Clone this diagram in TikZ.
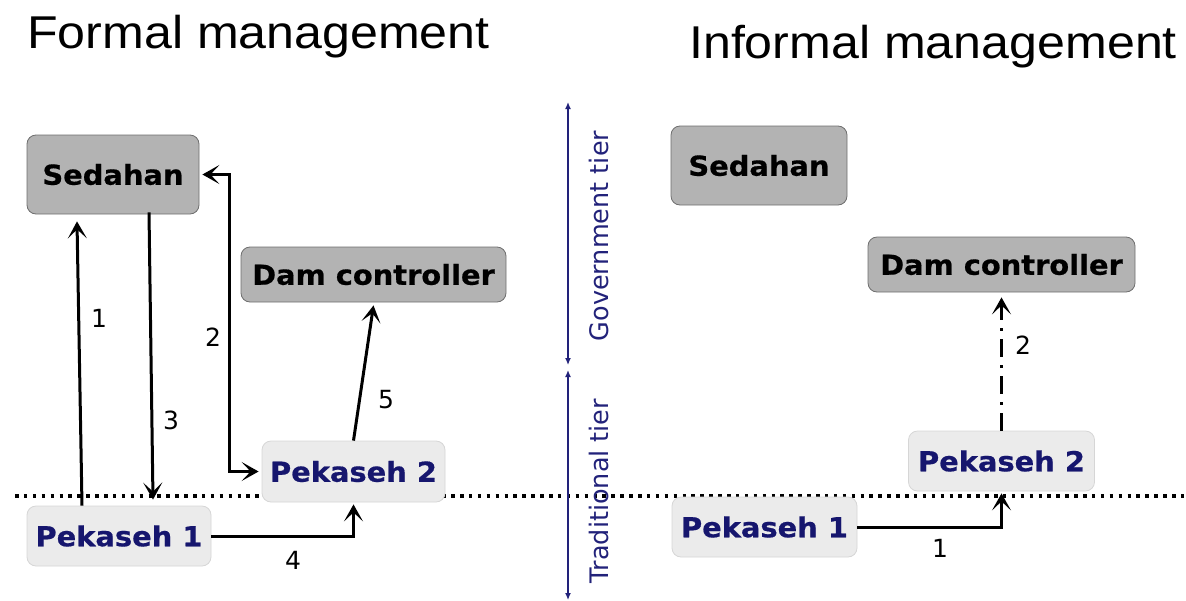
\documentclass[tikz,border=0pt]{standalone}
\usepackage{fontspec}
\setmainfont{DejaVu Sans}
\newfontfamily\titlefont[FakeStretch=1.09]{Liberation Sans}
\newfontfamily\boxfont[FakeStretch=1.05,FakeBold=0.6]{DejaVu Sans Bold}
\usetikzlibrary{arrows.meta}
\definecolor{boxgray}{HTML}{B3B3B3}
\definecolor{boxgrayline}{HTML}{6E6E6E}
\definecolor{boxlight}{HTML}{EBEBEB}
\definecolor{boxlightline}{HTML}{D6D6D6}
\definecolor{navytxt}{HTML}{16166E}
\definecolor{axisnavy}{HTML}{22227A}
\begin{document}
\begin{tikzpicture}[x=1pt,y=-1pt,
  govbox/.style={draw=boxgrayline,fill=boxgray,rounded corners=9pt,line width=0.8pt,
    font=\boxfont\fontsize{27.5}{30}\selectfont,text=black,inner sep=0pt},
  tradbox/.style={draw=boxlightline,fill=boxlight,rounded corners=9pt,line width=0.8pt,
    font=\boxfont\fontsize{27.5}{30}\selectfont,text=navytxt,inner sep=0pt},
  flow/.style={line width=3pt,-{Stealth[length=17pt,width=19pt,inset=9pt]}},
  flowboth/.style={line width=3pt,{Stealth[length=17pt,width=19pt,inset=9pt]}-{Stealth[length=17pt,width=19pt,inset=9pt]}},
  num/.style={font=\fontsize{25}{28}\selectfont,inner sep=0pt},
  tier/.style={font=\fontsize{25.5}{28}\selectfont,text=axisnavy,rotate=90,anchor=base,inner sep=0pt},
  axis/.style={draw=axisnavy,line width=1.3pt,{Latex[length=7pt,width=6pt]}-{Latex[length=7pt,width=6pt]}},
  title/.style={font=\titlefont\fontsize{46}{50}\selectfont,anchor=base west,inner sep=0pt}
]
\useasboundingbox (0,0) rectangle (1186,600);

% titles
\node[title] (t1) at (27,48) {Formal management};
\node[title] (t2) at (689,58) {Informal management};

% dotted boundary
\coordinate (dl) at (15,496);
\coordinate (dr) at (1186,496);
\draw[line width=3.5pt,dash pattern=on 3.5pt off 5.4pt] (dl) -- (dr);

% tier axis
\coordinate (a1) at (568,102);
\coordinate (a2) at (568,365);
\coordinate (a3) at (568,370);
\coordinate (a4) at (568,600);
\draw[axis] (a1) -- (a2);
\draw[axis] (a3) -- (a4);
\node[tier] (gt) at (608,236) {Government tier};
\node[tier] (tt) at (608,491) {Traditional tier};

% left: formal management
\node[govbox,minimum width=172pt,minimum height=79pt] (sedL) at (113,174.5) {Sedahan};
\node[govbox,minimum width=265pt,minimum height=55pt] (damL) at (373.5,274.5) {Dam controller};
\node[tradbox,minimum width=183pt,minimum height=61pt] (pk2L) at (353.5,471.5) {Pekaseh 2};
\node[tradbox,minimum width=184pt,minimum height=60pt] (pk1L) at (119,536) {Pekaseh 1};

\draw[flow] ([xshift=-37pt]pk1L.north) -- ([xshift=-36pt,yshift=-7pt]sedL.south);
\draw[flow] ([xshift=36pt,yshift=2pt]sedL.south) -- ([xshift=34pt,yshift=6pt]pk1L.north);
\draw[flowboth] ([xshift=3pt]sedL.east) -| ([xshift=-32pt]pk2L.west) -- ([xshift=-3pt]pk2L.west);
\draw[flow] (pk1L.east) -| ([yshift=-2pt]pk2L.south);
\draw[flow] (pk2L.north) -- ([yshift=-3pt]damL.south);

\node[num] (n1) at (99,318) {1};
\node[num] (n2) at (213,337) {2};
\node[num] (n3) at (171,420) {3};
\node[num] (n4) at (293,560) {4};
\node[num] (n5) at (386,400) {5};

% right: informal management
\node[govbox,minimum width=176pt,minimum height=79pt] (sedR) at (759,165.5) {Sedahan};
\node[govbox,minimum width=267pt,minimum height=55pt] (damR) at (1001.5,264.5) {Dam controller};
\node[tradbox,minimum width=186pt,minimum height=60pt] (pk2R) at (1001.5,461) {Pekaseh 2};
\node[tradbox,minimum width=185pt,minimum height=60pt] (pk1R) at (764.5,527) {Pekaseh 1};

\draw[flow] (pk1R.east) -| ([yshift=-2pt]pk2R.south);
\draw[flow,dash pattern=on 18pt off 8pt on 3pt off 8pt] (pk2R.north) -- ([yshift=-5pt]damR.south);

\node[num] (m1) at (940,548) {1};
\node[num] (m2) at (1023,345) {2};
\end{tikzpicture}
\end{document}
